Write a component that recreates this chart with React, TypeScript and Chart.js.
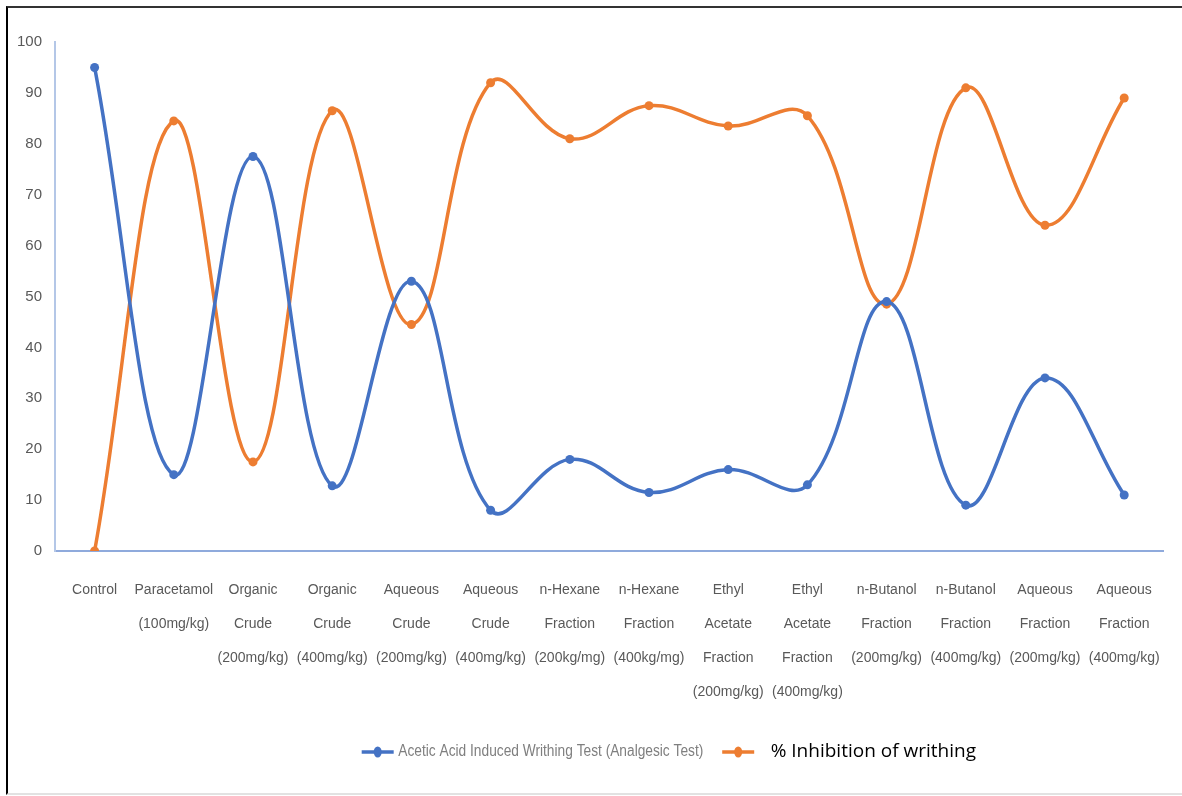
import React, { useEffect, useRef } from "react";
import { Chart, registerables } from "chart.js";

Chart.register(...registerables);

const categories: string[][] = [
  ["Control"],
  ["Paracetamol", "(100mg/kg)"],
  ["Organic", "Crude", "(200mg/kg)"],
  ["Organic", "Crude", "(400mg/kg)"],
  ["Aqueous", "Crude", "(200mg/kg)"],
  ["Aqueous", "Crude", "(400mg/kg)"],
  ["n-Hexane", "Fraction", "(200kg/mg)"],
  ["n-Hexane", "Fraction", "(400kg/mg)"],
  ["Ethyl", "Acetate", "Fraction", "(200mg/kg)"],
  ["Ethyl", "Acetate", "Fraction", "(400mg/kg)"],
  ["n-Butanol", "Fraction", "(200mg/kg)"],
  ["n-Butanol", "Fraction", "(400mg/kg)"],
  ["Aqueous", "Fraction", "(200mg/kg)"],
  ["Aqueous", "Fraction", "(400mg/kg)"],
];

const writhingTest: number[] = [95, 15, 77.5, 12.8, 53, 8, 18, 11.5, 16, 13, 49, 9, 34, 11];
const inhibition: number[] = [0, 84.5, 17.5, 86.5, 44.5, 92, 81, 87.5, 83.5, 85.5, 48.5, 91, 64, 89];

const seriesNames: string[] = [
  "Acetic Acid Induced Writhing Test (Analgesic Test)",
  "% Inhibition of writhing",
];

const yTicks = { min: 0, max: 100, step: 10 };

const BLUE = "#4472C4";
const ORANGE = "#ED7D31";
const TICK_FONT = "'Liberation Sans', Arial, sans-serif";

// Legend drawn by a small plugin so each entry can keep its own typeface.
const customLegend = {
  id: "customLegend",
  afterDraw(chart: any) {
    const ctx = chart.ctx as CanvasRenderingContext2D;
    const W = chart.width;
    const y = 752;
    const items = [
      { text: seriesNames[0], color: BLUE, font: `16px ${TICK_FONT}`, textColor: "#7f7f7f", mx: W * 0.306, tx: W * 0.337, tw: W * 0.258 },
      { text: seriesNames[1], color: ORANGE, font: `19px 'Open Sans', sans-serif`, textColor: "#000000", mx: W * 0.611, tx: W * 0.652, tw: 0 },
    ];
    const markerW = 32;
    ctx.save();
    items.forEach((it) => {
      ctx.strokeStyle = it.color;
      ctx.lineWidth = 3.5;
      ctx.beginPath();
      ctx.moveTo(it.mx, y);
      ctx.lineTo(it.mx + markerW, y);
      ctx.stroke();
      ctx.fillStyle = it.color;
      ctx.beginPath();
      ctx.ellipse(it.mx + markerW / 2, y, 4, 5.5, 0, 0, Math.PI * 2);
      ctx.fill();
      ctx.font = it.font;
      ctx.fillStyle = it.textColor;
      ctx.textBaseline = "middle";
      ctx.textAlign = "left";
      if (it.tw > 0) {
        const natural = ctx.measureText(it.text).width;
        const sx = it.tw / natural;
        ctx.save();
        ctx.translate(it.tx, y);
        ctx.scale(sx, 1);
        ctx.fillText(it.text, 0, 0);
        ctx.restore();
      } else {
        ctx.fillText(it.text, it.tx, y);
      }
    });
    ctx.restore();
  },
};

export default function App() {
  const canvasRef = useRef<HTMLCanvasElement | null>(null);

  useEffect(() => {
    if (!canvasRef.current) return;
    const chart = new Chart(canvasRef.current, {
      type: "line",
      data: {
        labels: categories,
        datasets: [
          {
            label: seriesNames[0],
            data: writhingTest,
            borderColor: BLUE,
            backgroundColor: BLUE,
            borderWidth: 3.5,
            pointRadius: 4.5,
            pointStyle: "circle",
            pointBorderWidth: 0,
            tension: 0.4,
            cubicInterpolationMode: "default",
          },
          {
            label: seriesNames[1],
            data: inhibition,
            borderColor: ORANGE,
            backgroundColor: ORANGE,
            borderWidth: 3.5,
            pointRadius: 4.5,
            pointStyle: "circle",
            pointBorderWidth: 0,
            tension: 0.4,
            cubicInterpolationMode: "default",
          },
        ],
      },
      options: {
        animation: false,
        responsive: false,
        layout: { padding: { left: 0, right: 11, top: 42, bottom: 0 } },
        plugins: {
          legend: { display: false },
          tooltip: { enabled: false },
        },
        scales: {
          x: {
            offset: true,
            grid: { display: false, drawTicks: false },
            border: { display: true, color: "#8FAADC", width: 2 },
            ticks: {
              autoSkip: false,
              maxRotation: 0,
              minRotation: 0,
              padding: 22,
              color: "#595959",
              font: { family: TICK_FONT, size: 14, lineHeight: 34 / 14 },
            },
            afterFit: (s: any) => {
              s.height = 245;
            },
          },
          y: {
            min: yTicks.min,
            max: yTicks.max,
            grid: { display: false, drawTicks: false },
            border: { display: true, color: "#B4C7E7", width: 2 },
            ticks: {
              stepSize: yTicks.step,
              padding: 13,
              color: "#595959",
              font: { family: TICK_FONT, size: 15 },
            },
            afterFit: (s: any) => {
              s.width = 55;
            },
          },
        },
      },
      plugins: [customLegend],
    });
    return () => chart.destroy();
  }, []);

  return (
    <div style={{ position: "absolute", left: 0, top: 0, width: 1182, height: 796, background: "#fff", overflow: "hidden" }}>
      <canvas ref={canvasRef} width={1182} height={796} style={{ position: "absolute", left: 0, top: 0, width: 1182, height: 796 }} />
      <div
        style={{
          position: "absolute",
          left: 6,
          top: 6,
          width: 1176,
          height: 785,
          borderLeft: "2px solid #000",
          borderTop: "2px solid #333",
          borderBottom: "2px solid #e2e2e2",
          pointerEvents: "none",
        }}
      />
    </div>
  );
}
